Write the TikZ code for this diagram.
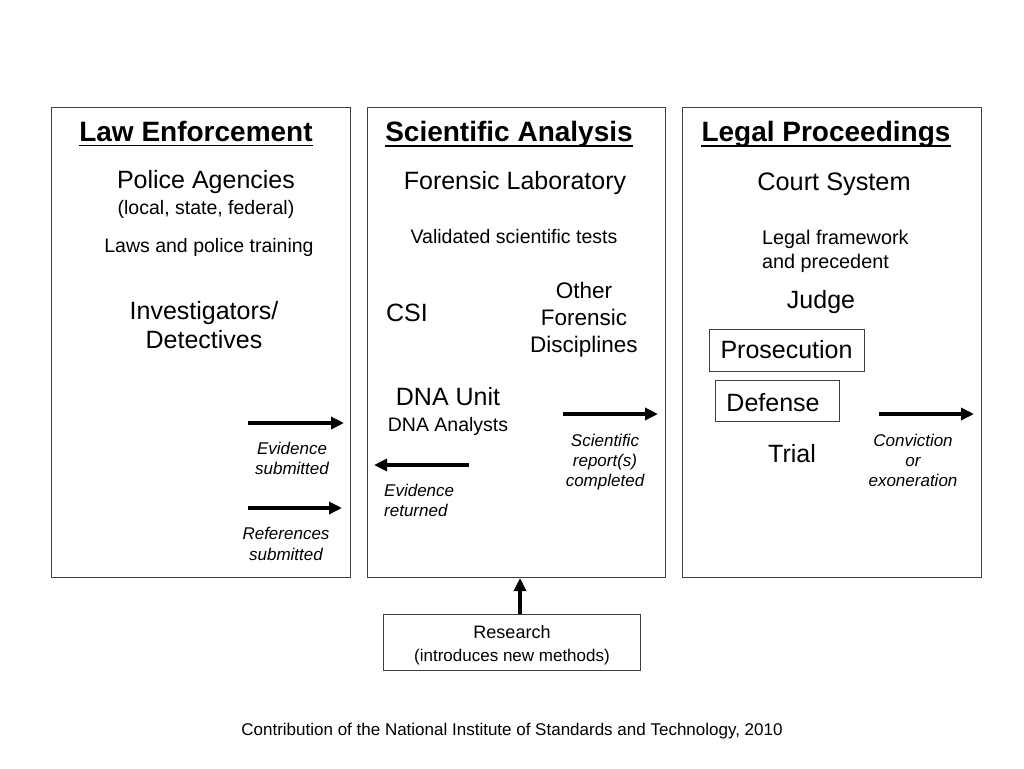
\documentclass[tikz,border=0pt]{standalone}
\usepackage{fontspec}
\setmainfont{Liberation Sans}
\usetikzlibrary{arrows.meta}
\begin{document}
\begin{tikzpicture}[x=1pt,y=-1pt,
  panel/.style={draw=black!75,line width=0.9pt},
  sbox/.style={draw=black!75,line width=0.9pt,inner sep=0pt},
  txt/.style={inner sep=0pt,align=center},
  big/.style={txt,font=\fontsize{25}{29}\selectfont},
  mid/.style={txt,font=\fontsize{19.5}{24}\selectfont},
  ital/.style={txt,font=\fontsize{17}{20.5}\selectfont\itshape},
  title/.style={txt,font=\fontsize{28}{32}\selectfont\bfseries},
  uline/.style={line width=1.8pt},
  arr/.style={line width=3.6pt,-{Triangle[length=13pt,width=12pt]}}]
\useasboundingbox (0,0) rectangle (1024,768);
% panels
\node[panel,minimum width=299pt,minimum height=470pt,inner sep=0pt] (p1) at (200.5,342) {};
\node[panel,minimum width=298pt,minimum height=470pt,inner sep=0pt] (p2) at (516,342) {};
\node[panel,minimum width=299pt,minimum height=470pt,inner sep=0pt] (p3) at (831.5,342) {};
% titles
\node[title] (t1) at (196,131) {Law Enforcement};
\node[title] (t2) at (509,134) {Scientific Analysis};
\node[title] (t3) at (826,134) {Legal Proceedings};
\foreach \t in {t1,t2,t3}{\draw[uline] ([yshift=-4.5pt]\t.base west) -- ([yshift=-4.5pt]\t.base east);}
% left panel
\node[big] (pa) at (206,182) {Police Agencies};
\node[mid] (lsf) at (206,209) {(local, state, federal)};
\node[mid] (lpt) at (209,247) {Laws and police training};
\node[big] (inv) at (204,325) {Investigators/\\Detectives};
\node[ital] (es) at (292,458.5) {Evidence\\submitted};
\node[ital] (rs) at (286,544) {References\\submitted};
% middle panel
\node[big] (fl) at (515,183) {Forensic Laboratory};
\node[mid] (vst) at (514,237) {Validated scientific tests};
\node[big] (csi) at (407,313) {CSI};
\node[txt,font=\fontsize{22.5}{27}\selectfont] (ofd) at (584,319.5) {Other\\Forensic\\Disciplines};
\node[big] (dna) at (448,397) {DNA Unit};
\node[mid] (dnaa) at (448,426) {DNA Analysts};
\node[txt,font=\fontsize{17}{20}\selectfont\itshape] (src) at (605,462) {Scientific\\report(s)\\completed};
\node[ital,align=left,anchor=west] (er) at (384,500.5) {Evidence\\returned};
% right panel
\node[txt,font=\fontsize{25.3}{29}\selectfont] (cs) at (834,184) {Court System};
\node[txt,align=left,anchor=west,font=\fontsize{19.8}{24}\selectfont] (lf) at (762,251) {Legal framework\\and precedent};
\node[big] (judge) at (821,302) {Judge};
\node[sbox,minimum width=155pt,minimum height=42pt,font=\fontsize{25}{29}\selectfont] (pros) at (786.5,350) {Prosecution};
\node[sbox,minimum width=124pt,minimum height=41pt,font=\fontsize{25}{29}\selectfont] (def) at (777,401) {};
\node[big] (deft) at (773,403) {Defense};
\node[big] (trial) at (792,454) {Trial};
\node[txt,font=\fontsize{17}{20}\selectfont\itshape] (conv) at (913,460) {Conviction\\or\\exoneration};
% research
\node[sbox,minimum width=257pt,minimum height=56pt] (res) at (511.5,642) {};
\node[txt,font=\fontsize{18}{22}\selectfont] (rest) at (512,632) {Research};
\node[txt,font=\fontsize{17}{20}\selectfont] (resm) at (512,657) {(introduces new methods)};
% footer
\node[txt,font=\fontsize{17}{20}\selectfont] (foot) at (512,731) {Contribution of the National Institute of Standards and Technology, 2010};
% arrows
\coordinate (a1s) at (248,423); \coordinate (a1e) at (344,423);
\coordinate (a2s) at (248,508); \coordinate (a2e) at (342,508);
\coordinate (a3s) at (469,465); \coordinate (a3e) at (374,465);
\coordinate (a4s) at (563,414); \coordinate (a4e) at (658,414);
\coordinate (a5s) at (879,414); \coordinate (a5e) at (974,414);
\coordinate (rtop) at (520,578);
\draw[arr] (a1s) -- (a1e);
\draw[arr] (a2s) -- (a2e);
\draw[arr] (a3s) -- (a3e);
\draw[arr] (a4s) -- (a4e);
\draw[arr] (a5s) -- (a5e);
\draw[arr] (res.north -| rtop) -- (rtop);
\end{tikzpicture}
\end{document}
